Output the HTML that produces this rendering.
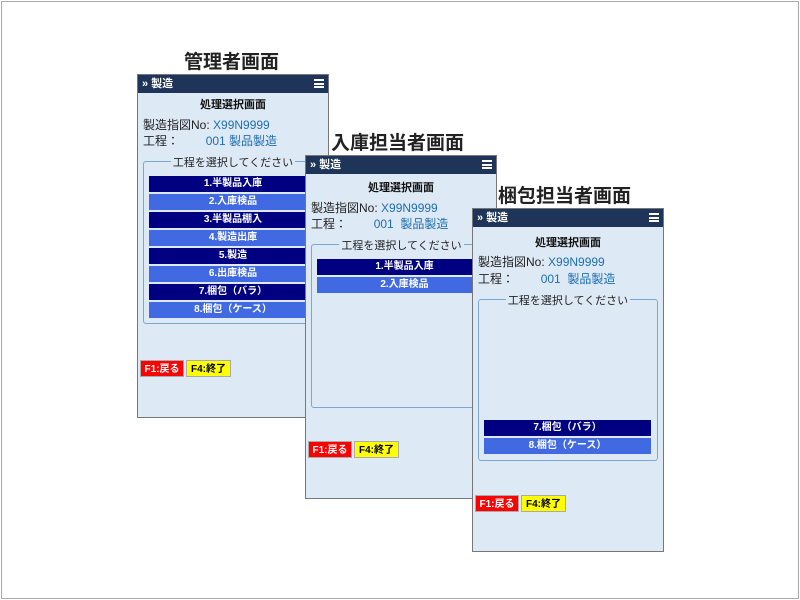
<!DOCTYPE html><html><head><meta charset="utf-8"><style>
*{margin:0;padding:0;box-sizing:border-box}
body{width:800px;height:600px;background:#fff;position:relative;overflow:hidden;font-family:"Liberation Sans","Noto Sans CJK JP",sans-serif}
.frame{position:absolute;left:1px;top:1px;width:798px;height:598px;border:1px solid #aaa}
.ttl{position:absolute;font-size:19px;font-weight:bold;color:#222;white-space:nowrap}
.p{position:absolute;width:192px;height:344px;background:#dde9f5;border:1px solid #777}
.hd{position:absolute;left:0;top:0;right:0;height:18px;background:#1f3459;color:#fff;font-size:11px;font-weight:bold;line-height:18px;padding-left:4px}
.hd i{position:absolute;right:4px;top:4px;width:10px;height:9px;border-top:2px solid #fff;border-bottom:2px solid #fff}
.hd i:after{content:"";position:absolute;left:0;right:0;top:2px;height:2px;background:#fff}
.t{position:absolute;left:0;right:0;text-align:center;font-size:11px;font-weight:bold;color:#111}
.l{position:absolute;left:5px;font-size:12px;color:#222;white-space:nowrap}
.l b{font-weight:normal;color:#1f6fb0}
.fs{position:absolute;border:1px solid #7aa8cf;border-radius:3px}
.lg{position:absolute;top:-8px;left:0;right:0;text-align:center;font-size:11px;color:#222}
.lg span{background:#dde9f5;padding:0 2px}
.b{position:absolute;height:16px;color:#fff;font-size:10px;font-weight:bold;text-align:center;line-height:16px}
.d{background:#000080}.m{background:#4169e1}
.f{position:absolute;height:17px;font-size:10px;font-weight:bold;line-height:17px;text-align:center;border:1px solid #aaa}
.r{background:#f00;color:#fff}.y{background:#ff0;color:#000}
</style></head><body>
<div class="frame"></div>
<div class="ttl" style="left:184px;top:47px">管理者画面</div>
<div class="ttl" style="left:331px;top:128px">入庫担当者画面</div>
<div class="ttl" style="left:498px;top:181px">梱包担当者画面</div>

<div class="p" style="left:137px;top:74px">
<div class="hd">» 製造<i></i></div>
<div class="t" style="top:21px">処理選択画面</div>
<div class="l" style="top:41px">製造指図No: <b>X99N9999</b></div>
<div class="l" style="top:57px">工程：&nbsp;&nbsp;&nbsp;&nbsp;&nbsp;&nbsp;&nbsp;&nbsp;<b>001 製品製造</b></div>
<div class="fs" style="left:5px;top:86px;width:180px;height:163px"><div class="lg"><span>工程を選択してください</span></div></div>
<div class="b d" style="left:11px;top:101px;width:168px">1.半製品入庫</div>
<div class="b m" style="left:11px;top:119px;width:168px">2.入庫検品</div>
<div class="b d" style="left:11px;top:137px;width:168px">3.半製品棚入</div>
<div class="b m" style="left:11px;top:155px;width:168px">4.製造出庫</div>
<div class="b d" style="left:11px;top:173px;width:168px">5.製造</div>
<div class="b m" style="left:11px;top:191px;width:168px">6.出庫検品</div>
<div class="b d" style="left:11px;top:209px;width:168px">7.梱包（バラ）</div>
<div class="b m" style="left:11px;top:227px;width:168px">8.梱包（ケース）</div>
<div class="f r" style="left:2px;top:285px;width:44px">F1:戻る</div>
<div class="f y" style="left:48px;top:285px;width:45px">F4:終了</div>
</div>

<div class="p" style="left:305px;top:155px">
<div class="hd">» 製造<i></i></div>
<div class="t" style="top:23px">処理選択画面</div>
<div class="l" style="top:43px">製造指図No: <b>X99N9999</b></div>
<div class="l" style="top:59px">工程：&nbsp;&nbsp;&nbsp;&nbsp;&nbsp;&nbsp;&nbsp;&nbsp;<b>001 &nbsp;製品製造</b></div>
<div class="fs" style="left:5px;top:88px;width:181px;height:164px"><div class="lg"><span>工程を選択してください</span></div></div>
<div class="b d" style="left:11px;top:103px;width:175px">1.半製品入庫</div>
<div class="b m" style="left:11px;top:121px;width:175px">2.入庫検品</div>
<div class="f r" style="left:2px;top:285px;width:44px">F1:戻る</div>
<div class="f y" style="left:48px;top:285px;width:45px">F4:終了</div>
</div>

<div class="p" style="left:472px;top:208px">
<div class="hd">» 製造<i></i></div>
<div class="t" style="top:25px">処理選択画面</div>
<div class="l" style="top:44px">製造指図No: <b>X99N9999</b></div>
<div class="l" style="top:61px">工程：&nbsp;&nbsp;&nbsp;&nbsp;&nbsp;&nbsp;&nbsp;&nbsp;<b>001 &nbsp;製品製造</b></div>
<div class="fs" style="left:5px;top:90px;width:180px;height:162px"><div class="lg"><span>工程を選択してください</span></div></div>
<div class="b d" style="left:11px;top:211px;width:167px">7.梱包（バラ）</div>
<div class="b m" style="left:11px;top:229px;width:167px">8.梱包（ケース）</div>
<div class="f r" style="left:2px;top:286px;width:44px">F1:戻る</div>
<div class="f y" style="left:48px;top:286px;width:45px">F4:終了</div>
</div>
</body></html>
